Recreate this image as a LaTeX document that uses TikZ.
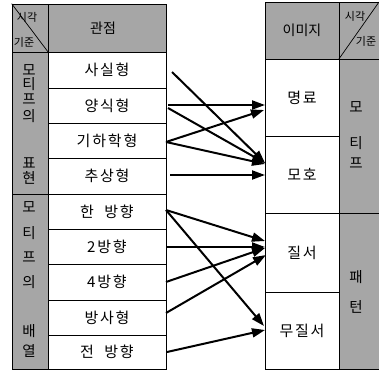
\documentclass[tikz,border=0pt]{standalone}
\usepackage{fontspec}
\setmainfont{Noto Sans CJK KR}
\newfontfamily\rowfont[LetterSpace=12]{Noto Sans CJK KR}
\usetikzlibrary{arrows.meta}
\tikzset{
  cell/.style={draw=black, line width=0.7pt, rectangle, inner sep=0pt, font=\rowfont\fontsize{15}{16}\selectfont},
  shadecell/.style={cell, fill=black!35, font=\fontsize{14}{15}\selectfont},
  vch/.style={inner sep=0pt, font=\fontsize{14.5}{15}\selectfont},
  small/.style={inner sep=0pt, font=\fontsize{11}{12}\selectfont},
  arr/.style={line width=2pt, -{Triangle[length=13pt,width=9pt]}}
}
\begin{document}
\begin{tikzpicture}[x=1pt,y=-1pt]
\useasboundingbox (0,0) rectangle (379,372);
\fill[white] (0,0) rectangle (379,372);
% ---- left table ----
\node[shadecell, minimum width=36, minimum height=48] (hL1) at (30,28) {};
\node[shadecell, minimum width=118, minimum height=48] (hL2) at (107,28) {\hspace*{-8pt}관점};
\draw[line width=0.7pt] (hL1.north west) -- (hL1.south east);
\node[small] (hL1a) at (27,17) {시각};
\node[small] (hL1b) at (24,42) {기준};
\node[shadecell, minimum width=36, minimum height=142] (cA) at (30,123) {};
\node[shadecell, minimum width=36, minimum height=175] (cB) at (30,281.5) {};
\node[cell, minimum width=118, minimum height=36] (r1) at (107,70) {사실형};
\node[cell, minimum width=118, minimum height=35] (r2) at (107,105.5) {양식형};
\node[cell, minimum width=118, minimum height=35] (r3) at (107,140.5) {기하학형};
\node[cell, minimum width=118, minimum height=36] (r4) at (107,176) {추상형};
\node[cell, minimum width=118, minimum height=35] (r5) at (107,211.5) {한\ \ 방향};
\node[cell, minimum width=118, minimum height=35] (r6) at (107,246.5) {2방향};
\node[cell, minimum width=118, minimum height=36] (r7) at (107,282) {4방향};
\node[cell, minimum width=118, minimum height=35] (r8) at (107,317.5) {방사형};
\node[cell, minimum width=118, minimum height=34] (r9) at (107,352) {전\ \ 방향};
% left vertical labels
\node[vch] (lA1) at (29,70) {모};
\node[vch] (lA2) at (29,84) {티};
\node[vch] (lA3) at (29,99) {프};
\node[vch] (lA4) at (29,116) {의};
\node[vch] (lA5) at (29,163) {표};
\node[vch] (lA6) at (29,178) {현};
\node[vch] (lB1) at (29,207) {모};
\node[vch] (lB2) at (29,233) {티};
\node[vch] (lB3) at (29,257) {프};
\node[vch] (lB4) at (29,282) {의};
\node[vch] (lB5) at (29,331) {배};
\node[vch] (lB6) at (29,351) {열};
% ---- right table ----
\node[shadecell, minimum width=74, minimum height=57] (hR1) at (302,30.5) {이미지};
\node[shadecell, minimum width=41, minimum height=57] (hR2) at (359.5,30.5) {};
\draw[line width=0.7pt] (hR2.south west) -- (379,2);
\node[small] (hR2a) at (355,16) {시각};
\node[small] (hR2b) at (366,41) {기준};
\node[cell, minimum width=74, minimum height=77] (i1) at (302,97.5) {명료};
\node[cell, minimum width=74, minimum height=77] (i2) at (302,174.5) {모호};
\node[cell, minimum width=74, minimum height=79] (i3) at (302,252.5) {질서};
\node[cell, minimum width=74, minimum height=77] (i4) at (302,330.5) {무질서};
\node[shadecell, minimum width=41, minimum height=154] (cC) at (359.5,136) {};
\node[shadecell, minimum width=41, minimum height=156] (cD) at (359.5,291) {};
\node[vch] (rC1) at (356,107) {모};
\node[vch] (rC2) at (356,143) {티};
\node[vch] (rC3) at (356,163) {프};
\node[vch] (rD1) at (356,277) {패};
\node[vch] (rD2) at (356,307) {턴};
% ---- arrow end points ----
\coordinate (s1) at (172,72);   \coordinate (e1) at (265,163);
\coordinate (s2) at (168,105);  \coordinate (e2) at (265,105);
\coordinate (s3) at (168,108);  \coordinate (e3) at (265,163);
\coordinate (s4) at (166,142);  \coordinate (e4) at (264,110);
\coordinate (s5) at (166,142);  \coordinate (e5) at (265,164);
\coordinate (s6) at (170,175);  \coordinate (e6) at (265,175);
\coordinate (s7) at (166,210);  \coordinate (e7) at (265,241);
\coordinate (s8) at (166,210);  \coordinate (e8) at (264,326);
\coordinate (s9) at (166,247);  \coordinate (e9) at (265,247);
\coordinate (s10) at (166,282); \coordinate (e10) at (265,248);
\coordinate (s11) at (166,313); \coordinate (e11) at (266,255);
\coordinate (s12) at (167,352); \coordinate (e12) at (265,330);
\foreach \k in {1,...,12} { \draw[arr] (s\k) -- (e\k); }
\end{tikzpicture}
\end{document}
